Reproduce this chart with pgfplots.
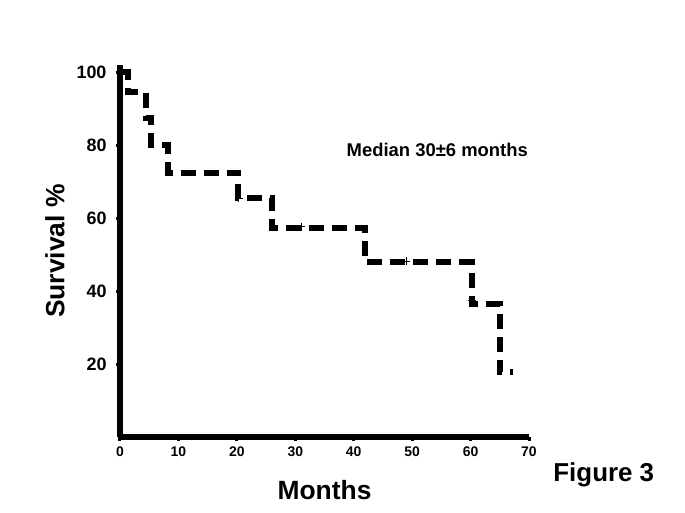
\documentclass[border=0pt]{standalone}
\usepackage{fontspec}
\setmainfont{Liberation Sans}
\usepackage{pgfplots}
\pgfplotsset{compat=1.18}
\begin{document}
\begin{tikzpicture}
\useasboundingbox (-120bp,-76bp) rectangle (565bp,437bp);
\begin{axis}[
  at={(0,0)}, anchor=south west,
  scale only axis, width=409bp, height=372bp,
  xmin=0, xmax=70, ymin=0, ymax=102,
  clip=false,
  axis x line*=bottom, axis y line*=left,
  axis line style={line width=6bp, black},
  xtick={0,10,...,70}, ytick={20,40,60,80,100},
  tick align=outside, major tick length=4bp,
  tick style={line width=3bp, black},
  /pgf/number format/assume math mode=true,
  x tick label style={font=\bfseries\fontsize{14}{14}\selectfont, yshift=-2bp},
  y tick label style={font=\bfseries\fontsize{18}{18}\selectfont, xshift=-6bp},
  xlabel={Months}, ylabel={Survival \%},
  label style={font=\bfseries\fontsize{26.5}{26.5}\selectfont},
  xlabel style={at={(axis description cs:0.5,-0.1425)}, anchor=center},
  ylabel style={at={(axis description cs:-0.159,0.5)}, anchor=center},
]
\addplot[black, line width=6bp, dash pattern=on 15bp off 8bp, const plot, miter limit=10]
  coordinates {(0,100)(1.3,94.5)(4.4,87.5)(5.3,80)(8.2,72.5)(20.2,65.5)(26,57.3)(42,47.9)(60.2,36.5)(65,17.8)(67.2,17.8)};
\addplot[black, only marks, mark=+, mark size=4bp, mark options={line width=1bp}]
  coordinates {(20.3,65.5)(31,57.6)(49,48.2)(60.2,37.3)};
\node[font=\bfseries\fontsize{18.5}{18.5}\selectfont] at (axis cs:54.3,78.7) {Median 30±6 months};
\node[font=\bfseries\fontsize{26}{26}\selectfont] at (axis cs:82.8,-10.4) {Figure 3};
\end{axis}
\end{tikzpicture}
\end{document}
